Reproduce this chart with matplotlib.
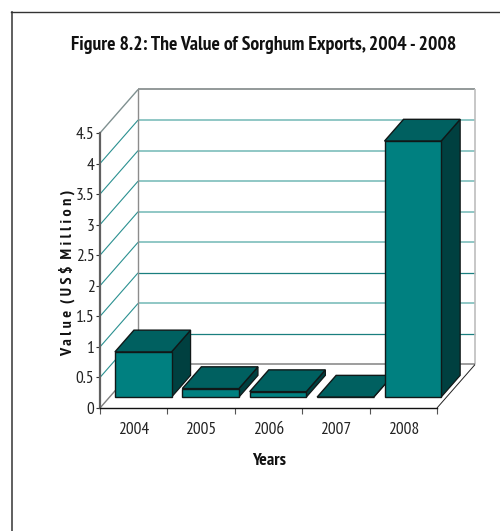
import matplotlib
matplotlib.use("Agg")
import matplotlib.pyplot as plt
from matplotlib import font_manager as fm
from matplotlib.lines import Line2D

years = ["2004", "2005", "2006", "2007", "2008"]
values = [0.74, 0.14, 0.09, 0.0, 4.19]
y_ticks = [0, 0.5, 1, 1.5, 2, 2.5, 3, 3.5, 4, 4.5]
y_tick_labels = ["0", "0.5", "1", "1.5", "2", "2.5", "3", "3.5", "4", "4.5"]

# the reference uses a narrow face, take one with a bold cut if the machine has it
bold_fonts = set(f.name for f in fm.fontManager.ttflist if f.weight in (700, "bold"))
narrow = [n for n in ["Arial Narrow", "Liberation Sans Narrow", "PT Sans Narrow", "Pragati Narrow", "Roboto Condensed"] if n in bold_fonts]
plt.rcParams["font.family"] = narrow[:1] + ["Liberation Sans", "DejaVu Sans"]
is_narrow = len(narrow) > 0

W, H = 500, 531
# oblique depth of the 3d box in data units
depth_x = 0.565
depth_y = 0.712
bar_width = 0.84
face = "#008080"
top = "#006060"
side = "#004040"
label_size = 12.5 if is_narrow else 10


def proj(x, y, z):
    return x + z * depth_x, y + z * depth_y


def line3d(ax, p0, p1, **kw):
    a = proj(*p0)
    b = proj(*p1)
    ax.plot([a[0], b[0]], [a[1], b[1]], clip_on=False, solid_capstyle="butt", **kw)


def fit_length(t, length, vertical=False):
    # scale a text so it covers the same pixels as in the reference
    box = t.get_window_extent()
    cur = box.height if vertical else box.width
    t.set_fontsize(t.get_fontsize() * length / cur)


fig = plt.figure(figsize=(W / 100, H / 100), dpi=100)
ax = fig.add_axes([100 / W, 1 - 408 / H, 337 / W, 275 / H])
ax.set_xlim(0, 5)
ax.set_ylim(0, 4.5)
for s in ax.spines.values():
    s.set_visible(False)
ax.patch.set_visible(False)

# outer frame runs off the image on the right and bottom
fig.add_artist(Line2D([11.5 / W, 11.5 / W], [0, 1 - 11.5 / H], color="#444444", lw=1.2))
fig.add_artist(Line2D([11 / W, 1], [1 - 11.5 / H, 1 - 11.5 / H], color="#333333", lw=1.0))

# walls and gridlines
for v in y_ticks[1:-1]:
    col = "#1a7f7f" if v in (0.5, 1.5) else "#7dbdbb"
    lw = 0.9 if v in (0.5, 1.5) else 1.2
    line3d(ax, (0, v, 1), (5, v, 1), color=col, lw=lw, zorder=1)
    line3d(ax, (0, v, 0), (0, v, 1), color="#2a9090", lw=0.8, zorder=1)
line3d(ax, (0, 4.5, 0), (0, 4.5, 1), color="#7f9090", lw=1.0, zorder=1)
line3d(ax, (0, 4.5, 1), (5, 4.5, 1), color="#808888", lw=1.2, zorder=1)
line3d(ax, (0, 0, 1), (0, 4.5, 1), color="#8c8c8c", lw=1.0, zorder=1)
line3d(ax, (5, 0, 1), (5, 4.5, 1), color="#bdbdbd", lw=1.2, zorder=1)
line3d(ax, (0, 0, 1), (5, 0, 1), color="#8c8c8c", lw=1.2, zorder=1)
line3d(ax, (0, 0, 0), (0, 0, 1), color="#808080", lw=1.0, zorder=1)
line3d(ax, (5, 0, 0), (5, 0, 1), color="#222222", lw=0.7, zorder=1)

# bars, sitting a quarter of the way into the floor
z0, z1 = 0.25, 0.75
for i, v in enumerate(values):
    x0 = i + (1 - bar_width) / 2
    x1 = x0 + bar_width
    front = [proj(x0, 0, z0), proj(x1, 0, z0), proj(x1, v, z0), proj(x0, v, z0)]
    roof = [proj(x0, v, z0), proj(x1, v, z0), proj(x1, v, z1), proj(x0, v, z1)]
    right = [proj(x1, 0, z0), proj(x1, 0, z1), proj(x1, v, z1), proj(x1, v, z0)]
    zo = 3 + i
    ax.fill(*zip(*right), fc=side, ec="#101818", lw=0.9, clip_on=False, zorder=zo)
    ax.fill(*zip(*roof), fc=top, ec="#101818", lw=1.0, clip_on=False, zorder=zo)
    ax.fill(*zip(*front), fc=face, ec="#101818", lw=1.0, clip_on=False, zorder=zo)

# axes
ax.spines["left"].set_visible(True)
ax.spines["left"].set_color("#606060")
ax.spines["left"].set_linewidth(1.6)
ax.spines["bottom"].set_visible(True)
ax.spines["bottom"].set_color("#111111")
ax.spines["bottom"].set_linewidth(1.0)

ax.set_yticks(y_ticks)
ax.set_yticklabels(y_tick_labels)
ax.tick_params(axis="y", length=3, width=0.8, color="#333333", pad=1, labelsize=label_size, labelcolor="#222222")
ax.set_xticks(range(6))
ax.set_xticklabels([])
ax.tick_params(axis="x", length=4, width=0.8, color="#555555")
ax.set_xticks([i + 0.5 for i in range(5)], minor=True)
ax.set_xticklabels(years, minor=True)
ax.tick_params(axis="x", which="minor", length=0, pad=10, labelsize=label_size, labelcolor="#222222")

title = fig.text(264 / W, 1 - 44.5 / H, "Figure 8.2: The Value of Sorghum Exports, 2004 - 2008",
                 ha="center", va="center", fontsize=14, fontweight="bold", color="#111111")
xlab = fig.text(269 / W, 1 - 461 / H, "Years", ha="center", va="center",
                fontsize=label_size, fontweight="bold", color="#111111")
ylab = fig.text(67 / W, 1 - 273 / H, "V a l u e  ( U S $  M i l l i o n )", ha="center", va="center",
                rotation=90, fontsize=label_size, fontweight="bold", color="#111111")
fig.canvas.draw()
fit_length(title, 388)
fit_length(xlab, 34)
fit_length(ylab, 167, vertical=True)

fig.savefig("out.png", dpi=100)
